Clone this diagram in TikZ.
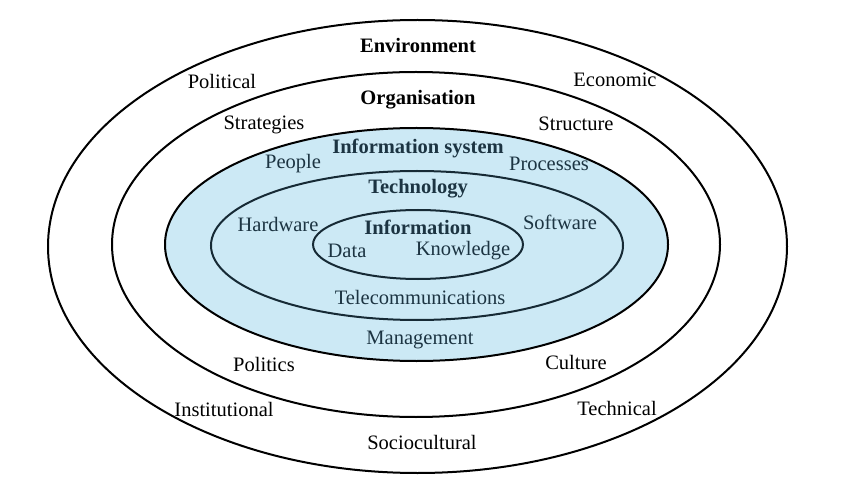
\documentclass[tikz,border=0pt]{standalone}
\usepackage{fontspec}
\setmainfont{Liberation Serif}
\definecolor{isblue}{HTML}{CCE9F5}
\definecolor{istext}{HTML}{1C3442}
\begin{document}
\begin{tikzpicture}[x=1pt,y=-1pt,
  ring/.style={draw=black,line width=2pt},
  inring/.style={draw=istext!80!black,line width=2pt},
  lbl/.style={inner sep=0pt,font=\fontsize{20.5}{23}\selectfont},
  head/.style={lbl,font=\fontsize{20.5}{23}\selectfont\bfseries},
  inlbl/.style={lbl,text=istext},
  inhead/.style={head,text=istext}]
\useasboundingbox (0,0) rectangle (857,497);
% rings
\draw[ring] (417.5,246.5) ellipse [x radius=369.5, y radius=226.5];
\draw[ring] (416,244.5) ellipse [x radius=304, y radius=172.5];
\draw[ring,fill=isblue] (416.5,244.5) ellipse [x radius=251.5, y radius=116.5];
\draw[inring] (417,245.5) ellipse [x radius=206, y radius=74.5];
\draw[inring] (418,244.5) ellipse [x radius=105, y radius=34.5];
% environment
\node[head] (env) at (418,45) {Environment};
\node[lbl] (pol) at (222,81) {Political};
\node[lbl] (eco) at (615,80) {Economic};
\node[lbl] (ins) at (224,409) {Institutional};
\node[lbl] (tec) at (617,408) {Technical};
\node[lbl] (soc) at (422,442) {Sociocultural};
% organisation
\node[head] (org) at (418,100) {Organisation};
\node[lbl] (str) at (264,125) {Strategies};
\node[lbl] (stc) at (576,124) {Structure};
\node[lbl] (polt) at (264,364) {Politics};
\node[lbl] (cul) at (576,362) {Culture};
% information system
\node[inhead] (is) at (418,148) {Information system};
\node[inlbl] (peo) at (293,164) {People};
\node[inlbl] (pro) at (549,164) {Processes};
\node[inlbl] (man) at (420,340) {Management};
% technology
\node[inhead] (tech) at (418,189) {Technology};
\node[inlbl] (hw) at (278,224) {Hardware};
\node[inlbl] (sw) at (560,222) {Software};
\node[inlbl] (tel) at (420,297) {Telecommunications};
% information
\node[inhead] (inf) at (418,227) {Information};
\node[inlbl] (dat) at (347,251) {Data};
\node[inlbl] (kno) at (463,251) {Knowledge};
\end{tikzpicture}
\end{document}
